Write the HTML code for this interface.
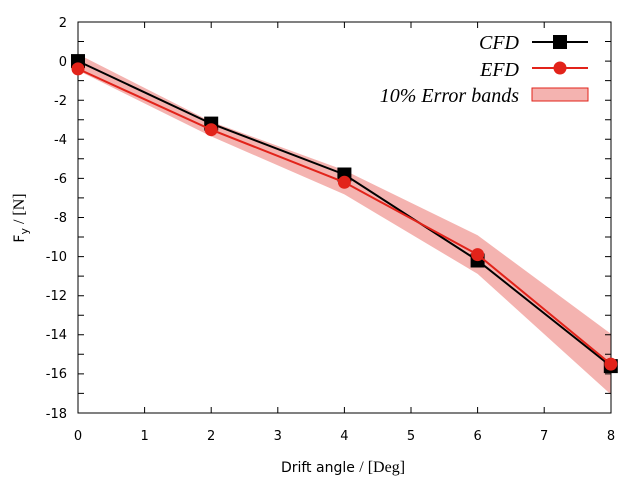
<!DOCTYPE html><html><head><style>body{margin:0;background:#fff}</style></head><body>
<svg width="640" height="480" xmlns="http://www.w3.org/2000/svg" font-family="DejaVu Sans, sans-serif" font-size="13">
<rect width="640" height="480" fill="#fff"/>
<polygon points="78,54.1 211.2,121.7 344.4,170.2 477.6,235.3 610.8,333.8 610.8,394.4 477.6,273.9 344.4,194.4 211.2,136.4 78,70.5" fill="#f4b3b0"/>
<g stroke="#000" stroke-width="1">
<rect x="78" y="22" width="533" height="391" fill="none"/>
<path d="M144.6,413v-6M144.6,22v6M211.2,413v-6M211.2,22v6M277.8,413v-6M277.8,22v6M344.4,413v-6M344.4,22v6M411,413v-6M411,22v6M477.6,413v-6M477.6,22v6M544.2,413v-6M544.2,22v6
M78,41.5h6M611,41.5h-6M78,61.1h6M611,61.1h-6M78,80.6h6M611,80.6h-6M78,100.2h6M611,100.2h-6M78,119.7h6M611,119.7h-6M78,139.3h6M611,139.3h-6M78,158.8h6M611,158.8h-6M78,178.4h6M611,178.4h-6M78,197.9h6M611,197.9h-6M78,217.5h6M611,217.5h-6M78,237h6M611,237h-6M78,256.6h6M611,256.6h-6M78,276.1h6M611,276.1h-6M78,295.7h6M611,295.7h-6M78,315.2h6M611,315.2h-6M78,334.8h6M611,334.8h-6M78,354.3h6M611,354.3h-6M78,373.9h6M611,373.9h-6M78,393.4h6M611,393.4h-6"/>
</g>
<g text-anchor="end">
<text x="67" y="27">2</text><text x="67" y="66">0</text><text x="67" y="105">-2</text><text x="67" y="144">-4</text><text x="67" y="183">-6</text><text x="67" y="222">-8</text><text x="67" y="261">-10</text><text x="67" y="300">-12</text><text x="67" y="339">-14</text><text x="67" y="378">-16</text><text x="67" y="418">-18</text>
</g>
<g text-anchor="middle">
<text x="78" y="440">0</text><text x="144.6" y="440">1</text><text x="211.2" y="440">2</text><text x="277.8" y="440">3</text><text x="344.4" y="440">4</text><text x="411" y="440">5</text><text x="477.6" y="440">6</text><text x="544.2" y="440">7</text><text x="611" y="440">8</text>
</g>
<text x="343" y="472" text-anchor="middle" font-size="14">Drift angle <tspan font-family="Liberation Serif, serif" font-size="16">/ [Deg]</tspan></text>
<text transform="translate(24,218) rotate(-90)" text-anchor="middle" font-size="14">F<tspan font-size="11" dy="4">y</tspan><tspan dy="-4" font-family="Liberation Serif, serif" font-size="16"> / [N]</tspan></text>
<polyline points="78,61.1 211.2,123.6 344.4,174.5 477.6,260.5 610.8,366.1" fill="none" stroke="#000" stroke-width="2"/>
<g fill="#000"><rect x="71" y="54.1" width="14" height="14"/><rect x="204.2" y="116.6" width="14" height="14"/><rect x="337.4" y="167.5" width="14" height="14"/><rect x="470.6" y="253.5" width="14" height="14"/><rect x="603.8" y="359.1" width="14" height="14"/></g>
<polyline points="78,68.9 211.2,129.7 344.4,182.3 477.6,254.6 610.8,364.1" fill="none" stroke="#e2231a" stroke-width="2"/>
<g fill="#e2231a"><circle cx="78" cy="68.9" r="6.5"/><circle cx="211.2" cy="129.7" r="6.5"/><circle cx="344.4" cy="182.3" r="6.5"/><circle cx="477.6" cy="254.6" r="6.5"/><circle cx="610.8" cy="364.1" r="6.5"/></g>
<g font-family="Liberation Serif, serif" font-style="italic" font-size="20" text-anchor="end">
<text x="519" y="49">CFD</text><text x="519" y="76">EFD</text><text x="519" y="102">10% Error bands</text>
</g>
<line x1="532" y1="42" x2="588" y2="42" stroke="#000" stroke-width="2"/><rect x="553" y="35" width="14" height="14"/>
<line x1="532" y1="68" x2="588" y2="68" stroke="#e2231a" stroke-width="2"/><circle cx="560" cy="68" r="6.5" fill="#e2231a"/>
<rect x="532" y="88" width="56" height="13" fill="#f4b3b0" stroke="#e2231a" stroke-width="1"/>
</svg></body></html>
